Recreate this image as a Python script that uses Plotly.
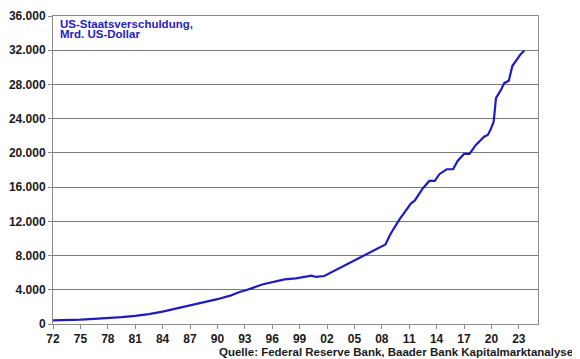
import plotly.graph_objects as go

# Data (decimal years, debt in bn USD)
years = [1972.0, 1973.5, 1975.0, 1976.5, 1978.0, 1979.5, 1981.0, 1982.5, 1984.0,
         1985.5, 1987.0, 1988.5, 1990.0, 1991.4, 1992.35, 1993.2, 1995.0, 1997.35,
         1998.6, 2000.3, 2000.8, 2001.7, 2003.0, 2004.5, 2005.9, 2007.3, 2008.4,
         2008.8, 2009.0, 2009.9, 2011.2, 2011.6, 2012.5, 2013.2, 2013.8, 2014.3,
         2015.1, 2015.8, 2016.3, 2017.0, 2017.6, 2018.3, 2019.2, 2019.6, 2019.9,
         2020.25, 2020.5, 2021.05, 2021.4, 2021.9, 2022.3, 2022.9, 2023.2, 2023.6]
debt = [420, 440, 500, 600, 680, 800, 950, 1150, 1450,
        1800, 2150, 2500, 2900, 3310, 3720, 3980, 4640, 5220,
        5340, 5650, 5500, 5610, 6320, 7100, 7870, 8650, 9300,
        10200, 10610, 12160, 14110, 14420, 15870, 16725, 16725, 17510,
        18090, 18090, 19060, 19880, 19880, 20935, 21900, 22100, 22690,
        23660, 26400, 27370, 28150, 28420, 30175, 31070, 31540, 31960]

tick_years = list(range(1972, 2024, 3))
tick_labels = ["<b>%02d</b>" % (y % 100) for y in tick_years]
y_ticks = list(range(0, 36001, 4000))
y_labels = ["<b>" + f"{v:,}".replace(",", ".") + "</b>" for v in y_ticks]

title_lines = ["US-Staatsverschuldung,", "Mrd. US-Dollar"]
source_text = "Quelle: Federal Reserve Bank, Baader Bank Kapitalmarktanalyse"

fig = go.Figure()
fig.add_trace(go.Scatter(x=years, y=debt, mode="lines",
                         line=dict(color="#1c1cc0", width=2.2), showlegend=False))

lab_font = dict(family="Liberation Sans", size=12, color="#1a1a1a")

fig.update_layout(
    width=572, height=351,
    margin=dict(l=45, r=42, t=8, b=35, autoexpand=False),
    paper_bgcolor="white", plot_bgcolor="white",
    font=dict(family="Liberation Sans"),
    xaxis=dict(range=[1972, 2025.1], tickmode="array", tickvals=tick_years,
               ticktext=tick_labels, showgrid=False, showline=True,
               linecolor="#8a8a8a", linewidth=1, mirror=True, ticks="outside",
               ticklen=4, tickcolor="#8a8a8a", tickfont=lab_font,
               zeroline=False, automargin=False),
    yaxis=dict(range=[0, 36000], tickmode="array", tickvals=y_ticks,
               ticktext=y_labels, showgrid=True, gridcolor="#7a7a7a", gridwidth=1,
               showline=True, linecolor="#8a8a8a", linewidth=1, mirror=True,
               ticks="outside", ticklen=4, tickcolor="#8a8a8a",
               tickfont=lab_font, zeroline=False, automargin=False),
    annotations=[
        dict(text="<b>" + title_lines[0] + "</b>", xref="paper", yref="paper",
             x=0.011, y=0.9734, xanchor="left", yanchor="middle", align="left",
             showarrow=False,
             font=dict(family="Liberation Sans", size=11.5, color="#2222c8")),
        dict(text="<b>" + title_lines[1] + "</b>", xref="paper", yref="paper",
             x=0.011, y=0.940, xanchor="left", yanchor="middle", align="left",
             showarrow=False,
             font=dict(family="Liberation Sans", size=11.5, color="#2222c8")),
        dict(text="<b>" + source_text + "</b>", xref="paper", yref="paper",
             x=1.0757, y=-0.09, xanchor="right", yanchor="middle",
             showarrow=False,
             font=dict(family="Liberation Sans", size=11.5, color="#1a1a1a")),
    ],
)

fig.write_html("out.html")
